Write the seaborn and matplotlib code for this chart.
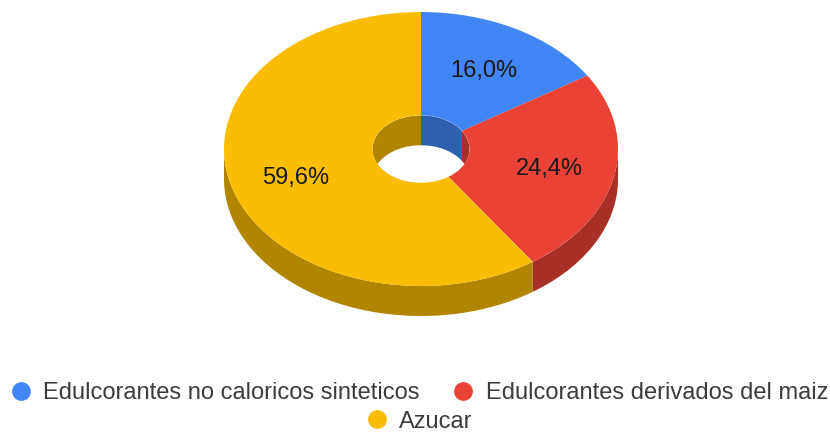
import numpy as np
import matplotlib
matplotlib.use("Agg")
import matplotlib.pyplot as plt
from matplotlib.lines import Line2D
from matplotlib.patches import Ellipse
import seaborn as sns

categories = ["Edulcorantes no caloricos sinteticos", "Edulcorantes derivados del maiz", "Azucar"]
values = [16.0, 24.4, 59.6]
colors = ["#4285F4", "#EA4335", "#FBBC04"]
wall_colors = ["#2F5FAF", "#A62F26", "#B18500"]

sns.set_theme(style="white")
plt.rcParams["font.family"] = ["Liberation Sans", "DejaVu Sans"]

W, H = 830, 432
CX, CY, RX, RY = 421, 149, 197, 137
HOLE = 48.5 / RX
DEPTH = 30 / RY

fig = plt.figure(figsize=(W / 100, H / 100), dpi=100, facecolor="white")
ax = fig.add_axes([0, 0, 1, 1])

wedges, _, autotexts = ax.pie(
    values, colors=colors, startangle=90, counterclock=False, radius=1,
    wedgeprops=dict(width=1 - HOLE, linewidth=0, zorder=3),
    autopct=lambda p: f"{p:.1f}%".replace(".", ","), pctdistance=0.665,
    textprops=dict(fontsize=17, color="#1a1a1a", zorder=5),
)
for t in autotexts:
    x, y = t.get_position()
    t.set_position((x, y - 2 / RY))
ax.set_aspect("auto")
ax.set_xlim(-CX / RX, (W - CX) / RX)
ax.set_ylim(-(H - CY) / RY, CY / RY)
ax.axis("off")

edges = np.concatenate([[0], np.cumsum(values)]) / np.sum(values) * 360


def wall(start, end, radius, color, zorder, clip=None):
    if end <= start:
        return
    t = np.radians(np.linspace(start, end, 120))
    x = radius * np.sin(t)
    y = radius * np.cos(t)
    poly = ax.fill(np.r_[x, x[::-1]], np.r_[y, y[::-1] - DEPTH],
                   color=color, linewidth=0, zorder=zorder)[0]
    if clip is not None:
        poly.set_clip_path(clip)


hole_clip = Ellipse((0, 0), 2 * HOLE, 2 * HOLE, transform=ax.transData)
for i, c in enumerate(wall_colors):
    a, b = edges[i], edges[i + 1]
    wall(max(a, 90), min(b, 270), 1, c, 2)
    wall(max(a, 270), min(b, 360), HOLE, c, 2, hole_clip)
    wall(max(a, 0), min(b, 90), HOLE, c, 2, hole_clip)


def dot(c):
    return Line2D([], [], linestyle="", marker="o", markersize=13.5,
                  markerfacecolor=c, markeredgewidth=0)


common = dict(frameon=False, fontsize=17, labelcolor="#3c3c3c", handletextpad=0.45,
              handlelength=1.0, borderpad=0, borderaxespad=0, loc="center")
fig.legend([dot(colors[0]), dot(colors[1])], categories[:2], ncol=2, columnspacing=1.35,
           bbox_to_anchor=(418.5 / W, 1 - 393 / H), **common)
fig.legend([dot(colors[2])], categories[2:], bbox_to_anchor=(419 / W, 1 - 421.5 / H), **common)

fig.savefig("out.png", dpi=100, facecolor="white")
